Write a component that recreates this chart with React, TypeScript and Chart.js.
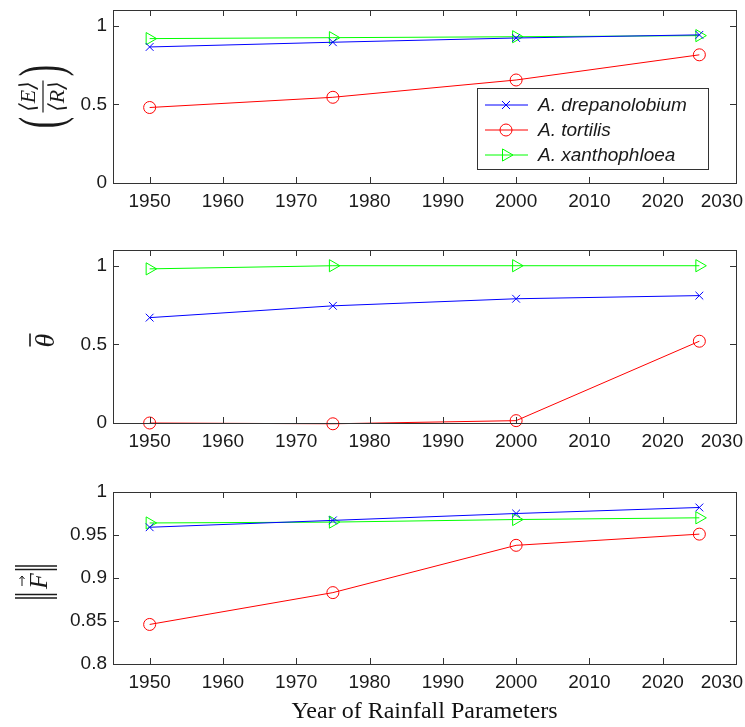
import React, { useEffect, useRef } from "react";
import { Chart, registerables } from "chart.js";

Chart.register(...registerables);

// ---------- data ----------
const years = [1950, 1975, 2000, 2025];
const seriesNames = ["A. drepanolobium", "A. tortilis", "A. xanthophloea"];
const seriesColors = ["#0000ff", "#ff0000", "#00ff00"];
const seriesMarkers = ["crossRot", "circle", "triangle"];

const erDrepanolobium = [0.865, 0.895, 0.922, 0.942];
const erTortilis = [0.48, 0.545, 0.655, 0.815];
const erXanthophloea = [0.918, 0.924, 0.93, 0.937];

const thetaDrepanolobium = [0.67, 0.745, 0.79, 0.81];
const thetaTortilis = [0, -0.005, 0.015, 0.52];
const thetaXanthophloea = [0.98, 1.0, 1.0, 1.0];

const fDrepanolobium = [0.959, 0.967, 0.975, 0.982];
const fTortilis = [0.846, 0.883, 0.938, 0.951];
const fXanthophloea = [0.964, 0.965, 0.968, 0.97];

const xMin = 1945;
const xMax = 2030;
const xStep = 10;
const xTitle = "Year of Rainfall Parameters";

const AXIS_COLOR = "#333333";
const TEXT_COLOR = "#1a1a1a";
const SANS = "'Liberation Sans', Arial, Helvetica, sans-serif";
const SERIF = "'Liberation Serif', 'Times New Roman', 'DejaVu Serif', serif";
const TICK_FONT_SIZE = 19;

// ---------- y-axis label drawers ----------
function drawERLabel(ctx: CanvasRenderingContext2D, cx: number, cy: number) {
  ctx.save();
  ctx.translate(cx, cy);
  ctx.rotate(-Math.PI / 2);
  ctx.fillStyle = TEXT_COLOR;
  ctx.strokeStyle = TEXT_COLOR;
  ctx.lineWidth = 1.2;
  ctx.beginPath();
  ctx.moveTo(-16, 0);
  ctx.lineTo(16, 0);
  ctx.stroke();
  ctx.textAlign = "center";
  ctx.textBaseline = "alphabetic";
  ctx.font = `italic 22px ${SERIF}`;
  ctx.fillText("⟨E⟩", 0, -8);
  ctx.fillText("⟨R⟩", 0, 21);
  ctx.save();
  ctx.scale(0.55, 1);
  ctx.font = `62px ${SERIF}`;
  ctx.textBaseline = "middle";
  ctx.fillText("(", -26 / 0.55, 2);
  ctx.fillText(")", 26 / 0.55, 2);
  ctx.restore();
  ctx.restore();
}

function drawThetaLabel(ctx: CanvasRenderingContext2D, cx: number, cy: number) {
  ctx.save();
  ctx.translate(cx, cy);
  ctx.rotate(-Math.PI / 2);
  ctx.fillStyle = TEXT_COLOR;
  ctx.strokeStyle = TEXT_COLOR;
  ctx.textAlign = "center";
  ctx.textBaseline = "middle";
  ctx.font = `italic 28px ${SERIF}`;
  ctx.fillText("θ", 0, 2);
  ctx.lineWidth = 1.6;
  ctx.beginPath();
  ctx.moveTo(-6, -15);
  ctx.lineTo(7, -15);
  ctx.stroke();
  ctx.restore();
}

function drawFLabel(ctx: CanvasRenderingContext2D, cx: number, cy: number) {
  ctx.save();
  ctx.translate(cx, cy);
  ctx.rotate(-Math.PI / 2);
  ctx.fillStyle = TEXT_COLOR;
  ctx.strokeStyle = TEXT_COLOR;
  ctx.lineWidth = 1.3;
  for (const lx of [-16, -12.5, 12.5, 16]) {
    ctx.beginPath();
    ctx.moveTo(lx, -21);
    ctx.lineTo(lx, 21);
    ctx.stroke();
  }
  ctx.textAlign = "center";
  ctx.textBaseline = "middle";
  ctx.font = `italic 26px ${SERIF}`;
  ctx.fillText("F", 1, 4);
  // arrow over F
  ctx.lineWidth = 1;
  ctx.beginPath();
  ctx.moveTo(-4, -14);
  ctx.lineTo(6, -14);
  ctx.moveTo(6, -14);
  ctx.lineTo(3, -16.5);
  ctx.moveTo(6, -14);
  ctx.lineTo(3, -11.5);
  ctx.stroke();
  ctx.restore();
}

// ---------- marker drawing for legend ----------
function drawMarker(ctx: CanvasRenderingContext2D, style: string, x: number, y: number, color: string) {
  ctx.save();
  ctx.strokeStyle = color;
  ctx.lineWidth = 1;
  ctx.beginPath();
  if (style === "crossRot") {
    const d = 4;
    ctx.moveTo(x - d, y - d);
    ctx.lineTo(x + d, y + d);
    ctx.moveTo(x - d, y + d);
    ctx.lineTo(x + d, y - d);
  } else if (style === "circle") {
    ctx.arc(x, y, 6, 0, Math.PI * 2);
  } else {
    const r = 7;
    ctx.moveTo(x + r, y);
    ctx.lineTo(x - r / 2, y - r * 0.866);
    ctx.lineTo(x - r / 2, y + r * 0.866);
    ctx.closePath();
  }
  ctx.stroke();
  ctx.restore();
}

// ---------- plugins ----------
const framePlugin = {
  id: "frameTicks",
  afterDraw(chart: any) {
    const { ctx, chartArea } = chart;
    const { left, right, top, bottom } = chartArea;
    ctx.save();
    ctx.strokeStyle = AXIS_COLOR;
    ctx.lineWidth = 1;
    ctx.strokeRect(Math.round(left) + 0.5, Math.round(top) + 0.5, Math.round(right - left), Math.round(bottom - top));
    const tl = 6;
    const xs = chart.scales.x;
    ctx.beginPath();
    for (const t of xs.ticks) {
      const px = Math.round(xs.getPixelForValue(t.value)) + 0.5;
      ctx.moveTo(px, bottom);
      ctx.lineTo(px, bottom - tl);
      ctx.moveTo(px, top);
      ctx.lineTo(px, top + tl);
    }
    const ys = chart.scales.y;
    for (const t of ys.ticks) {
      const py = Math.round(ys.getPixelForValue(t.value)) + 0.5;
      ctx.moveTo(left, py);
      ctx.lineTo(left + tl, py);
      ctx.moveTo(right, py);
      ctx.lineTo(right - tl, py);
    }
    ctx.stroke();

    // last x tick label, kept inside the canvas like the original export
    const items = xs._labelItems || [];
    const ref = items.find((it: any) => it && it.options);
    if (ref) {
      const label = String(xMax);
      ctx.font = `${TICK_FONT_SIZE}px ${SANS}`;
      const w = ctx.measureText(label).width;
      const px = xs.getPixelForValue(xMax);
      const rightEdge = Math.min(px + w / 2, chart.width - 2);
      ctx.fillStyle = TEXT_COLOR;
      ctx.textAlign = "right";
      ctx.textBaseline = ref.options.textBaseline || "middle";
      const ty = (ref.options.translation ? ref.options.translation[1] : xs.top + 7) + (ref.textOffset || 0);
      ctx.fillText(label, rightEdge, ty);
    }
    ctx.restore();
  },
};

const yLabelPlugin = {
  id: "yLabel",
  afterDraw(chart: any, _args: any, opts: any) {
    if (!opts || !opts.draw) return;
    const { chartArea } = chart;
    const cy = (chartArea.top + chartArea.bottom) / 2 + (opts.dy || 0);
    opts.draw(chart.ctx, chartArea.left - opts.dx, cy);
  },
};

const boxLegendPlugin = {
  id: "boxLegend",
  afterDraw(chart: any, _args: any, opts: any) {
    if (!opts || !opts.show) return;
    const { ctx, chartArea } = chart;
    const w = 231;
    const h = 81;
    const x0 = chartArea.right - 259;
    const y0 = chartArea.top + 78;
    ctx.save();
    ctx.fillStyle = "#ffffff";
    ctx.fillRect(x0, y0, w, h);
    ctx.strokeStyle = AXIS_COLOR;
    ctx.lineWidth = 1;
    ctx.strokeRect(x0 + 0.5, y0 + 0.5, w, h);
    chart.data.datasets.forEach((ds: any, i: number) => {
      const yy = y0 + 17 + i * 25;
      ctx.strokeStyle = ds.borderColor;
      ctx.lineWidth = 1;
      ctx.beginPath();
      ctx.moveTo(x0 + 8, yy);
      ctx.lineTo(x0 + 51, yy);
      ctx.stroke();
      drawMarker(ctx, ds.pointStyle, x0 + 29, yy, ds.borderColor);
      ctx.fillStyle = TEXT_COLOR;
      ctx.font = `italic 19px ${SANS}`;
      ctx.textAlign = "left";
      ctx.textBaseline = "middle";
      ctx.fillText(ds.label, x0 + 61, yy + 1);
    });
    ctx.restore();
  },
};

// ---------- panels ----------
type Panel = {
  top: number;
  h: number;
  padTop: number;
  xHeight: number;
  yMin: number;
  yMax: number;
  yStep: number;
  series: number[][];
  draw: (ctx: CanvasRenderingContext2D, cx: number, cy: number) => void;
  dx: number;
  dy: number;
  legend: boolean;
  showXTitle: boolean;
};

const panels: Panel[] = [
  {
    top: 0, h: 225, padTop: 10, xHeight: 42,
    yMin: 0, yMax: 1.1, yStep: 0.5,
    series: [erDrepanolobium, erTortilis, erXanthophloea],
    draw: drawERLabel, dx: 70, dy: 0, legend: true, showXTitle: false,
  },
  {
    top: 225, h: 240, padTop: 25, xHeight: 42,
    yMin: 0, yMax: 1.1, yStep: 0.5,
    series: [thetaDrepanolobium, thetaTortilis, thetaXanthophloea],
    draw: drawThetaLabel, dx: 68, dy: 4, legend: false, showXTitle: false,
  },
  {
    top: 465, h: 262, padTop: 27, xHeight: 63,
    yMin: 0.8, yMax: 1.0, yStep: 0.05,
    series: [fDrepanolobium, fTortilis, fXanthophloea],
    draw: drawFLabel, dx: 77, dy: 4, legend: false, showXTitle: true,
  },
];

const fmt = (v: any) => `${+Number(v).toFixed(3)}`;

function buildConfig(p: Panel): any {
  const rotations = [0, 0, 90];
  const radii = [5.5, 6, 7];
  return {
    type: "line",
    data: {
      datasets: p.series.map((vals, i) => ({
        label: seriesNames[i],
        data: years.map((yr, k) => ({ x: yr, y: vals[k] })),
        borderColor: seriesColors[i],
        backgroundColor: "transparent",
        borderWidth: 1,
        pointStyle: seriesMarkers[i],
        pointRotation: rotations[i],
        pointRadius: radii[i],
        pointHoverRadius: radii[i],
        pointBorderColor: seriesColors[i],
        pointBackgroundColor: "transparent",
        pointBorderWidth: 1,
        tension: 0,
        fill: false,
        clip: false,
      })),
    },
    options: {
      responsive: false,
      animation: false,
      events: [],
      layout: { padding: { top: p.padTop, right: 9, left: 0, bottom: 0 } },
      plugins: {
        legend: { display: false },
        tooltip: { enabled: false },
        yLabel: { draw: p.draw, dx: p.dx, dy: p.dy },
        boxLegend: { show: p.legend },
      },
      scales: {
        x: {
          type: "linear",
          min: xMin,
          max: xMax,
          grid: { display: false, drawTicks: false },
          border: { display: false },
          ticks: {
            stepSize: xStep,
            includeBounds: false,
            autoSkip: false,
            maxRotation: 0,
            padding: 7,
            color: TEXT_COLOR,
            font: { family: SANS, size: TICK_FONT_SIZE },
            callback: (v: any) => (Number(v) === xMax ? "" : String(v)),
          },
          title: {
            display: p.showXTitle,
            text: xTitle,
            color: "#111111",
            font: { family: SERIF, size: 24 },
            padding: { top: 0, bottom: 1 },
          },
          afterFit: (s: any) => {
            s.height = p.xHeight;
            s.paddingLeft = 0;
            s.paddingRight = 0;
          },
        },
        y: {
          type: "linear",
          min: p.yMin,
          max: p.yMax,
          grid: { display: false, drawTicks: false },
          border: { display: false },
          ticks: {
            stepSize: p.yStep,
            includeBounds: false,
            autoSkip: false,
            padding: 6,
            color: TEXT_COLOR,
            font: { family: SANS, size: TICK_FONT_SIZE },
            callback: fmt,
          },
          afterFit: (s: any) => {
            s.width = 113;
            s.paddingTop = 0;
            s.paddingBottom = 0;
          },
        },
      },
    },
    plugins: [framePlugin, yLabelPlugin, boxLegendPlugin],
  };
}

export default function App() {
  const r0 = useRef<HTMLCanvasElement>(null);
  const r1 = useRef<HTMLCanvasElement>(null);
  const r2 = useRef<HTMLCanvasElement>(null);
  const refs = [r0, r1, r2];

  useEffect(() => {
    const charts = panels.map((p, i) => new Chart(refs[i].current as HTMLCanvasElement, buildConfig(p)));
    return () => charts.forEach((c) => c.destroy());
  }, []);

  return (
    <div style={{ position: "absolute", left: 0, top: 0, width: 745, height: 727, background: "#ffffff" }}>
      {panels.map((p, i) => (
        <canvas
          key={i}
          ref={refs[i]}
          width={745}
          height={p.h}
          style={{ position: "absolute", left: 0, top: p.top, width: 745, height: p.h, display: "block" }}
        />
      ))}
    </div>
  );
}
